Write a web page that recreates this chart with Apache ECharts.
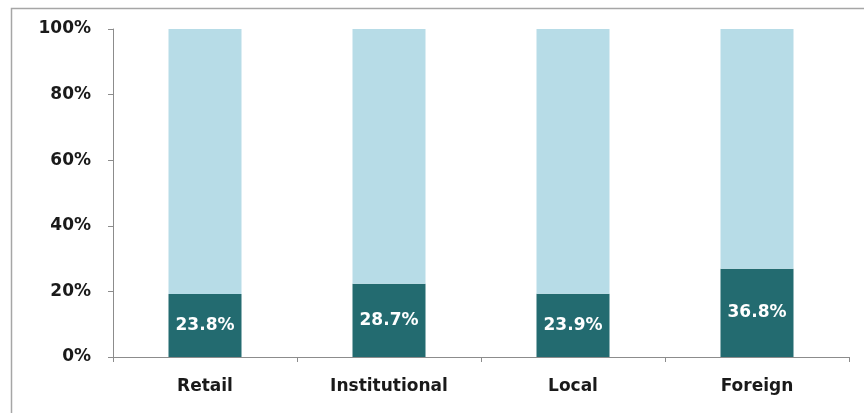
<!DOCTYPE html>
<html>
<head>
<meta charset="utf-8">
<script src="https://cdn.jsdelivr.net/npm/echarts@6/dist/echarts.min.js"></script>
<style>
	html,body{margin:0;padding:0;background:#fff;}
	#chart{width:864px;height:413px;}
</style>
</head>
<body>
<div id="chart"></div>
<script>
var categories = ['Retail','Institutional','Local','Foreign'];
// value shown in the dark segment, stacked against a base of 100
var darkValues = [23.8, 28.7, 23.9, 36.8];
var baseValues = [100, 100, 100, 100];
var yTicks = [0, 20, 40, 60, 80, 100];

var COLOR = {
	DARK:'#236B70',
	LIGHT:'#B7DCE7',
	AXIS:'#8C8C8C',
	TEXT:'#1A1A1A'
};

function toShare(part,other){
	var out = [];
	for(var i = 0; i < part.length; i++){
		out.push(part[i] / (part[i] + other[i]) * 100);
	}
	return out;
}

function renderChart(){
	var darkShare = toShare(darkValues,baseValues);
	var lightShare = toShare(baseValues,darkValues);

	var myChart = echarts.init(document.getElementById('chart'));
	myChart.setOption({
		animation:false,
		grid:{
			left:113,
			right:15,
			top:29,
			bottom:56
		},
		graphic:[{
			type:'rect',
			shape:{x:11.5,y:8.5,width:1000,height:1000},
			style:{fill:'none',stroke:'#A6A6A6',lineWidth:1.5}
		}],
		xAxis:{
			type:'category',
			data:categories,
			axisLine:{lineStyle:{color:COLOR.AXIS,width:1}},
			axisTick:{show:true,length:5,lineStyle:{color:COLOR.AXIS}},
			axisLabel:{
				color:COLOR.TEXT,
				fontFamily:'DejaVu Sans',
				fontWeight:'bold',
				fontSize:17,
				margin:21
			}
		},
		yAxis:{
			type:'value',
			min:yTicks[0],
			max:yTicks[yTicks.length-1],
			interval:yTicks[1]-yTicks[0],
			axisLine:{show:true,lineStyle:{color:COLOR.AXIS,width:1}},
			axisTick:{show:true,length:5,lineStyle:{color:COLOR.AXIS}},
			splitLine:{show:false},
			axisLabel:{
				formatter:'{value}%',
				color:COLOR.TEXT,
				fontFamily:'DejaVu Sans',
				fontWeight:'bold',
				fontSize:17,
				margin:22
			}
		},
		series:[
			{
				name:'dark',
				type:'bar',
				stack:'total',
				barWidth:73,
				itemStyle:{color:COLOR.DARK},
				label:{
					show:true,
					position:'inside',
					color:'#FFFFFF',
					fontFamily:'DejaVu Sans',
					fontWeight:'bold',
					fontSize:17,
					formatter:function(p){
						return darkValues[p.dataIndex].toFixed(1) + '%';
					}
				},
				data:darkShare
			},
			{
				name:'light',
				type:'bar',
				stack:'total',
				barWidth:73,
				itemStyle:{color:COLOR.LIGHT},
				data:lightShare
			}
		]
	});
}

renderChart();
</script>
</body>
</html>
